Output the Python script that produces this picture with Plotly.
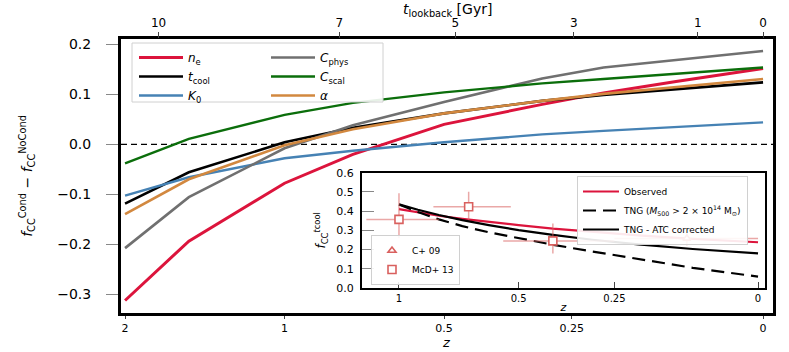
import numpy as np
import plotly.graph_objects as go

# ---------------- data ----------------
# main panel: difference in cool-core fraction vs redshift
z_snap  = [2.0, 1.5, 1.0, 0.75, 0.5, 0.3, 0.2, 0.1, 0.0]
d_ne    = [-0.313, -0.194, -0.078, -0.020, 0.040, 0.080, 0.103, 0.126, 0.152]
d_tcool = [-0.119, -0.056, 0.004, 0.033, 0.062, 0.087, 0.099, 0.110, 0.124]
d_K0    = [-0.103, -0.066, -0.028, -0.013, 0.004, 0.020, 0.027, 0.035, 0.044]
d_Cphys = [-0.208, -0.106, -0.008, 0.038, 0.085, 0.132, 0.154, 0.169, 0.187]
d_Cscal = [-0.038, 0.011, 0.059, 0.083, 0.104, 0.122, 0.131, 0.142, 0.154]
d_alpha = [-0.140, -0.070, -0.002, 0.030, 0.062, 0.087, 0.101, 0.115, 0.131]

# inset: cool-core fraction (t_cool) vs redshift
z_inset = [1.0, 0.9, 0.8, 0.7, 0.6, 0.5, 0.4, 0.3, 0.2, 0.1, 0.0]
f_obs   = [0.410, 0.393, 0.376, 0.360, 0.343, 0.327, 0.309, 0.292, 0.274, 0.256, 0.238]
f_tng   = [0.435, 0.395, 0.357, 0.322, 0.290, 0.260, 0.225, 0.190, 0.150, 0.105, 0.059]
f_atc   = [0.435, 0.407, 0.380, 0.353, 0.327, 0.301, 0.276, 0.251, 0.227, 0.203, 0.180]

# observational points
mcd_z      = [1.0, 0.675, 0.4]
mcd_zerr   = [0.2, 0.15, 0.15]
mcd_f      = [0.357, 0.423, 0.245]
mcd_f_up   = [0.136, 0.078, 0.091]
mcd_f_dn   = [0.098, 0.069, 0.065]
cav_z      = [0.11]
cav_z_lo   = [0.11]
cav_z_hi   = [0.14]
cav_f      = [0.258]
cav_f_err  = [0.035]

# tick labels
z_ticks_main   = [2, 1, 0.5, 0.25, 0]
z_ticks_inset  = [1, 0.5, 0.25, 0]
lookback_ticks = [10, 7, 5, 3, 1, 0]

# ---------------- scale helpers ----------------
def to_a(z):
    return 1.0 / (1.0 + np.asarray(z, dtype=float))

# lookback time (TNG / Planck15 cosmology) -> scale factor, for the top axis
H0, Om, OL = 67.74, 0.3089, 0.6911
tH = 977.79 / H0
zg = np.linspace(0, 5, 20001)
integrand = 1.0 / ((1 + zg) * np.sqrt(Om * (1 + zg) ** 3 + OL))
tl = tH * np.concatenate([[0], np.cumsum(0.5 * (integrand[1:] + integrand[:-1]) * np.diff(zg))])
z_of_tl = np.interp(lookback_ticks, tl, zg)
a_lookback = to_a(z_of_tl)

# ---------------- layout geometry ----------------
W, H = 789, 352
L, R, T, B = 121, 16, 39, 39
pw, ph = W - L - R, H - T - B
def px_x(px):                # pixel -> paper fraction
    return (px - L) / pw
def px_y(py):
    return (H - B - py) / ph

FONT = "DejaVu Sans"
fig = go.Figure()

main_series = [
    ("<i>n</i><sub>e</sub>", d_ne, "#DC143C", 3.0, "legend"),
    ("<i>t</i><sub>cool</sub>", d_tcool, "#000000", 2.6, "legend"),
    ("<i>K</i><sub>0</sub>", d_K0, "#4682B4", 2.4, "legend"),
    ("<i>C</i><sub>phys</sub>", d_Cphys, "#707070", 2.6, "legend2"),
    ("<i>C</i><sub>scal</sub>", d_Cscal, "#0B6E0B", 2.4, "legend2"),
    ("<i>α</i>", d_alpha, "#D2883F", 2.6, "legend2"),
]
for name, vals, col, lw, leg in main_series:
    fig.add_trace(go.Scatter(x=to_a(z_snap), y=vals, mode="lines", name=name,
                             line=dict(color=col, width=lw), legend=leg,
                             xaxis="x", yaxis="y"))

# invisible trace to carry the top (lookback) axis
fig.add_trace(go.Scatter(x=a_lookback, y=[None] * len(a_lookback), mode="lines",
                         showlegend=False, hoverinfo="skip", xaxis="x2", yaxis="y"))

# zero line
fig.add_shape(type="line", xref="x", yref="y", x0=0.3291, x1=1.0104, y0=0, y1=0,
              line=dict(color="black", width=1.2, dash="6px,4px"), layer="below")

# ---------------- inset ----------------
fig.add_trace(go.Scatter(x=to_a(z_inset), y=f_obs, mode="lines", name="Observed",
                         line=dict(color="#DC143C", width=2.2), legend="legend3",
                         xaxis="x3", yaxis="y3"))
fig.add_trace(go.Scatter(x=to_a(z_inset), y=f_tng, mode="lines",
                         name="TNG (<i>M</i><sub>500</sub> > 2 × 10<sup>14</sup> M<sub>⊙</sub>)",
                         line=dict(color="black", width=2.2, dash="13px,7px"), legend="legend3",
                         xaxis="x3", yaxis="y3"))
fig.add_trace(go.Scatter(x=to_a(z_inset), y=f_atc, mode="lines", name="TNG - ATC corrected",
                         line=dict(color="black", width=2.2), legend="legend3",
                         xaxis="x3", yaxis="y3"))

cz = np.asarray(cav_z)
a_c = to_a(cz)
fig.add_trace(go.Scatter(
    x=a_c, y=cav_f, mode="markers", name="C+ 09",
    marker=dict(symbol="triangle-up", size=7, color="white", line=dict(color="#D9605E", width=1.6)),
    error_x=dict(type="data", symmetric=False, array=to_a(cz - np.asarray(cav_z_lo)) - a_c,
                 arrayminus=a_c - to_a(cz + np.asarray(cav_z_hi)), color="rgba(217,96,94,0.55)",
                 thickness=1.5, width=0),
    error_y=dict(type="data", array=cav_f_err, color="rgba(217,96,94,0.55)", thickness=1.5, width=0),
    legend="legend4", xaxis="x3", yaxis="y3"))
mz = np.asarray(mcd_z); me = np.asarray(mcd_zerr)
a_m = to_a(mz)
fig.add_trace(go.Scatter(
    x=a_m, y=mcd_f, mode="markers", name="McD+ 13",
    marker=dict(symbol="square", size=8, color="white", line=dict(color="#D9605E", width=1.6)),
    error_x=dict(type="data", symmetric=False, array=to_a(mz - me) - a_m,
                 arrayminus=a_m - to_a(mz + me), color="rgba(217,96,94,0.55)", thickness=1.5, width=0),
    error_y=dict(type="data", symmetric=False, array=mcd_f_up, arrayminus=mcd_f_dn,
                 color="rgba(217,96,94,0.55)", thickness=1.5, width=0),
    legend="legend4", xaxis="x3", yaxis="y3"))

# main legend frame (two columns)
fig.add_shape(type="rect", xref="paper", yref="paper",
              x0=px_x(132), x1=px_x(383), y0=px_y(102), y1=px_y(43),
              fillcolor="rgba(255,255,255,0.9)", line=dict(color="#d0d0d0", width=1), layer="above")

# axis titles that sit in the tight margins
fig.add_annotation(text="<i>t</i><sub>lookback</sub> [Gyr]", xref="paper", yref="paper",
                   x=px_x(447), y=px_y(10), xanchor="center", yanchor="middle", showarrow=False,
                   font=dict(family=FONT, size=14, color="black"))
fig.add_annotation(text="<i>z</i>", xref="paper", yref="paper",
                   x=px_x(446), y=px_y(352), xanchor="center", yanchor="bottom", showarrow=False,
                   font=dict(family=FONT, size=13, color="black"))

tickfont = dict(family=FONT, size=14, color="black")
fig.update_layout(
    width=W, height=H, margin=dict(l=L, r=R, t=T, b=B, autoexpand=False),
    paper_bgcolor="white", plot_bgcolor="white",
    font=dict(family=FONT, color="black"),
    xaxis=dict(domain=[0, 1], range=[0.3291, 1.0104], tickvals=to_a(z_ticks_main),
               ticktext=[str(v) for v in z_ticks_main], ticks="outside", ticklen=3,
               tickcolor="#444", tickwidth=1.2, tickfont=dict(family=FONT, size=11, color="black"),
               automargin=False,
               showline=True, linecolor="black", linewidth=3, mirror=True,
               showgrid=False, zeroline=False),
    xaxis2=dict(overlaying="x", side="top", anchor="y", range=[0.3291, 1.0104],
                tickvals=a_lookback, ticktext=[str(v) for v in lookback_ticks],
                ticks="outside", ticklen=6, tickcolor="#444", tickwidth=1.2,
                tickfont=dict(family=FONT, size=12, color="black"), automargin=False,
                showline=False, showgrid=False, zeroline=False),
    yaxis=dict(domain=[0, 1], range=[-0.338, 0.211], tickvals=[-0.3, -0.2, -0.1, 0.0, 0.1, 0.2],
               tickformat=".1f", ticks="outside", ticklen=12, tickcolor="#888", tickwidth=1.2,
               tickfont=tickfont, ticklabelstandoff=12, automargin=False,
               showline=True, linecolor="black", linewidth=3, mirror=True,
               showgrid=False, zeroline=False,
               title=dict(text="<i>f</i><sub>CC</sub><sup>Cond</sup> − <i>f</i><sub>CC</sub><sup>NoCond</sup>",
                          font=dict(family=FONT, size=14), standoff=22)),
    xaxis3=dict(domain=[px_x(362), px_x(765)], anchor="y3", range=[0.4485, 1.0097],
                tickvals=to_a(z_ticks_inset), ticktext=[str(v) for v in z_ticks_inset],
                ticks="inside", ticklen=6, tickcolor="#444", tickwidth=1,
                tickfont=dict(family=FONT, size=10), automargin=False,
                showline=True, linecolor="black", linewidth=2, mirror=True,
                showgrid=False, zeroline=False,
                title=dict(text="<i>z</i>", font=dict(family=FONT, size=11), standoff=0)),
    yaxis3=dict(domain=[px_y(288), px_y(172.7)], anchor="x3", range=[0, 0.6],
                tickvals=[0, 0.1, 0.2, 0.3, 0.4, 0.5, 0.6], tickformat=".1f",
                ticks="inside", ticklen=12, tickcolor="#888", tickwidth=1.2,
                tickfont=dict(family=FONT, size=11), ticklabelstandoff=4, automargin=False,
                showline=True, linecolor="black", linewidth=2, mirror=True,
                showgrid=False, zeroline=False,
                title=dict(text="<i>f</i><sub>CC</sub><sup><i>t</i>cool</sup>",
                           font=dict(family=FONT, size=12), standoff=8)),
    legend=dict(x=px_x(134), y=px_y(43), xanchor="left", yanchor="top",
                bgcolor="rgba(0,0,0,0)", borderwidth=0, itemwidth=44,
                font=dict(family=FONT, size=12)),
    legend2=dict(x=px_x(266), y=px_y(43), xanchor="left", yanchor="top",
                 bgcolor="rgba(0,0,0,0)", borderwidth=0, itemwidth=44,
                 font=dict(family=FONT, size=12)),
    legend3=dict(x=px_x(748), y=px_y(176), xanchor="right", yanchor="top",
                 bgcolor="rgba(255,255,255,0.9)", bordercolor="#d0d0d0", borderwidth=1,
                 itemwidth=36, font=dict(family=FONT, size=9)),
    legend4=dict(x=px_x(371), y=px_y(285), xanchor="left", yanchor="bottom",
                 bgcolor="rgba(255,255,255,0.9)", bordercolor="#d0d0d0", borderwidth=1,
                 itemwidth=30, font=dict(family=FONT, size=9)),
)

# remove the page's default body margin so the figure fills the window exactly
fig.write_html("out.html", config={"displayModeBar": False},
               post_script="document.body.style.margin='0px';")
